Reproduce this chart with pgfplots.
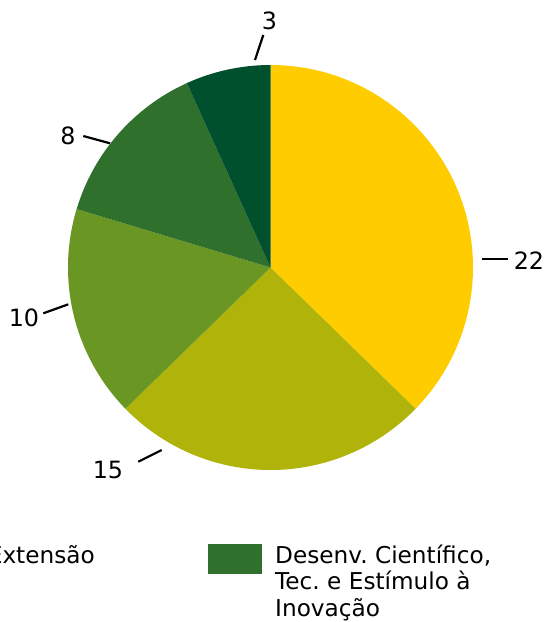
\documentclass[border=0pt]{standalone}
\usepackage{pgfplots}
\pgfplotsset{compat=1.18}
\usepackage{fontspec}
\setmainfont{DejaVu Sans}
\frenchspacing
\definecolor{cA}{RGB}{255,204,0}
\definecolor{cB}{RGB}{176,180,10}
\definecolor{cC}{RGB}{106,150,35}
\definecolor{cD}{RGB}{47,112,45}
\definecolor{cE}{RGB}{0,79,45}
% slice values (clockwise from the top)
\pgfmathsetmacro\vA{22}
\pgfmathsetmacro\vB{15}
\pgfmathsetmacro\vC{10}
\pgfmathsetmacro\vD{8}
\pgfmathsetmacro\vE{4}
\pgfmathsetmacro\tot{\vA+\vB+\vC+\vD+\vE}
\pgfmathsetmacro\aO{90}
\pgfmathsetmacro\aA{\aO-360*\vA/\tot}
\pgfmathsetmacro\aB{\aA-360*\vB/\tot}
\pgfmathsetmacro\aC{\aB-360*\vC/\tot}
\pgfmathsetmacro\aD{\aC-360*\vD/\tot}
\pgfmathsetmacro\aE{\aD-360*\vE/\tot}
\begin{document}
\begin{tikzpicture}
\useasboundingbox (0,0) rectangle (546pt,622pt);
\clip (0,0) rectangle (546pt,622pt);
\begin{axis}[at={(0,0)}, anchor=south west, x=1pt, y=1pt,
  xmin=0, xmax=546, ymin=0, ymax=622, y dir=reverse,
  enlargelimits=false, hide axis, clip=false]
\def\cx{270.5}\def\cy{267.5}\def\R{202.5pt}
\fill[cA] (axis cs:\cx,\cy) -- ++(\aO:\R) arc[start angle=\aO, end angle=\aA, radius=\R] -- cycle;
\fill[cB] (axis cs:\cx,\cy) -- ++(\aA:\R) arc[start angle=\aA, end angle=\aB, radius=\R] -- cycle;
\fill[cC] (axis cs:\cx,\cy) -- ++(\aB:\R) arc[start angle=\aB, end angle=\aC, radius=\R] -- cycle;
\fill[cD] (axis cs:\cx,\cy) -- ++(\aC:\R) arc[start angle=\aC, end angle=\aD, radius=\R] -- cycle;
\fill[cE] (axis cs:\cx,\cy) -- ++(\aD:\R) arc[start angle=\aD, end angle=\aE, radius=\R] -- cycle;
% leader lines
\draw[line width=2.2pt] (axis cs:481.7,259.3) -- (axis cs:507.7,259.3);
\draw[line width=2.2pt] (axis cs:161.7,450) -- (axis cs:138.3,461.7);
\draw[line width=2.2pt] (axis cs:68.3,304.3) -- (axis cs:43.3,313.3);
\draw[line width=2.2pt] (axis cs:110,143.3) -- (axis cs:83.3,136);
\draw[line width=2.2pt] (axis cs:255,60) -- (axis cs:263.3,35);
% labels
\tikzset{lab/.style={inner sep=0pt, font=\fontsize{23.8}{26.5}\selectfont},
         leg/.style={inner sep=0pt, font=\fontsize{23.2}{26.5}\selectfont}}
\node[lab] at (axis cs:529,260.3) {22};
\node[lab] at (axis cs:108,470) {15};
\node[lab] at (axis cs:24,318) {10};
\node[lab] at (axis cs:68,135.5) {8};
\node[lab] at (axis cs:269.5,20.5) {3};
% legend (partly outside the picture)
\node[leg, overlay, anchor=base east] at (axis cs:95,563) {Extensão};
\fill[cD] (axis cs:208,544) rectangle (axis cs:262,574);
\node[leg, anchor=base west] at (axis cs:275,563) {Desenv. Científico,};
\node[leg, anchor=base west] at (axis cs:275,589.5) {Tec. e Estímulo à};
\node[leg, overlay, anchor=base west] at (axis cs:275,616) {Inovação};
\end{axis}
\end{tikzpicture}
\end{document}
